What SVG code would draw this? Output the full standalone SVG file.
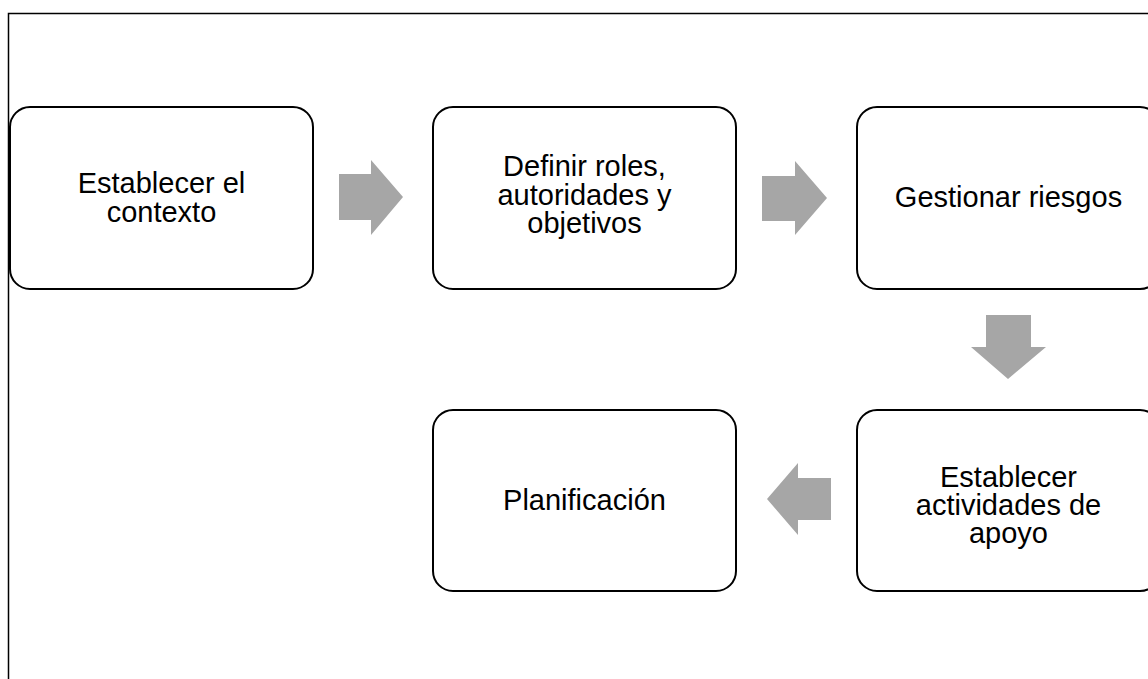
<svg xmlns="http://www.w3.org/2000/svg" width="1148" height="679" viewBox="0 0 1148 679">
  <style>
    .frame { fill: none; stroke: #000; stroke-width: 1.5; }
    .box { fill: #fff; stroke: #000; stroke-width: 2; }
    .arrow { fill: #a6a6a6; }
    .label { font-family: "Liberation Sans", Arial, sans-serif; font-size: 29px; fill: #000; text-anchor: middle; }
  </style>
  <rect width="1148" height="679" fill="#fff"/>
  <!-- outer frame running past the right and bottom edges -->
  <path class="frame" d="M8.5 679 V13.5 H1148"/>

  <g id="connectors">
    <polygon class="arrow" points="339,174 371,174 371,160 403,197 371,235 371,220 339,220"/>
    <polygon class="arrow" points="762,176 795,176 795,161 827,198 795,235 795,221 762,221"/>
    <polygon class="arrow" points="986,315 1031,315 1031,347 1046,347 1008,379 971,347 986,347"/>
    <polygon class="arrow" points="831,478 798,478 798,463 767,499 798,535 798,520 831,520"/>
  </g>

  <g id="node-contexto">
    <rect class="box" x="10" y="107" width="303" height="182" rx="20"/>
    <text class="label" x="161.5" y="193">Establecer el</text>
    <text class="label" x="161.5" y="222">contexto</text>
  </g>
  <g id="node-roles">
    <rect class="box" x="433" y="107" width="303" height="182" rx="20"/>
    <text class="label" x="584.5" y="176">Definir roles,</text>
    <text class="label" x="584.5" y="204.5">autoridades y</text>
    <text class="label" x="584.5" y="233">objetivos</text>
  </g>
  <g id="node-riesgos">
    <rect class="box" x="857" y="107" width="303" height="182" rx="20"/>
    <text class="label" x="1008.5" y="207">Gestionar riesgos</text>
  </g>
  <g id="node-apoyo">
    <rect class="box" x="857" y="410" width="303" height="181" rx="20"/>
    <text class="label" x="1008.5" y="487">Establecer</text>
    <text class="label" x="1008.5" y="515">actividades de</text>
    <text class="label" x="1008.5" y="543">apoyo</text>
  </g>
  <g id="node-planificacion">
    <rect class="box" x="433" y="410" width="303" height="181" rx="20"/>
    <text class="label" x="584.5" y="510">Planificación</text>
  </g>
</svg>
